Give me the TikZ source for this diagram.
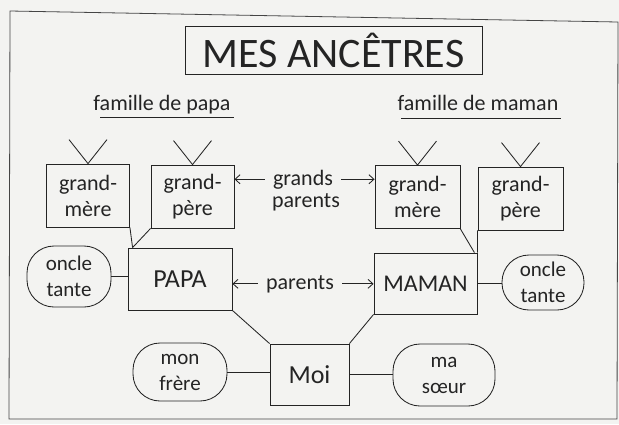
\documentclass[tikz,border=0pt]{standalone}
\usepackage{fontspec}
\setmainfont{Carlito}
\usepackage{tikz}
\usetikzlibrary{arrows.meta,shapes,calc,positioning}

\definecolor{paper}{RGB}{243,243,241}
\definecolor{ink}{RGB}{36,36,36}

\begin{document}
\begin{tikzpicture}[x=1pt,y=-1pt,line width=0.85pt,draw=ink,text=ink,
  >={Straight Barb[length=5pt,width=9pt]}]

\tikzset{elder/.style={
  rectangle,
  inner sep=0pt,
  align=center,
  draw=ink,
  minimum width=83pt,
  minimum height = 63pt,
  font=\fontsize{22}{26}\selectfont
  }}
\tikzset{parent/.style={
  rectangle,
  inner sep=0pt,
  draw=ink,
  minimum width=104pt,
  minimum height = 62pt,
  font=\fontsize{26}{30}\selectfont
  }}
\tikzset{kin/.style={
  rectangle,
  rounded corners=27pt,
  inner sep=0pt,
  align=center,
  draw=ink,
  minimum height = 60pt,
  font=\fontsize{21}{26}\selectfont
  }}
\tikzset{tag/.style={inner sep=0pt, font=\fontsize{22}{24}\selectfont}}
\tikzset{lbl/.style={tag, inner xsep=8pt}}

\useasboundingbox (0,0) rectangle (619,424);
\fill[paper] (0,0) rectangle (619,424);
\draw[ink!85, line width=0.8pt] (10,11) -- (618,22) -- (617,419) -- (9,419) -- cycle;

\node[draw=ink, inner sep=0pt, minimum width=297pt, minimum height=48pt,
  font=\fontsize{42}{42}\selectfont] (title) at (333.5,50) {MES ANCÊTRES};

\node[tag, anchor=base] (famP) at (162,110) {famille de papa};
\node[tag, anchor=base] (famM) at (478,110) {famille de maman};
\draw ([xshift=7pt,yshift=-7pt]famP.base west) -- ([xshift=3pt,yshift=-7pt]famP.base east);
\draw ([xshift=4pt,yshift=-8pt]famM.base west) -- ([xshift=2pt,yshift=-8pt]famM.base east);

% grands-parents
\node[elder] (gmP) at (88,195.5) {grand-\\mère};
\node[elder] (gpP) at (192.5,196.5) {grand-\\père};
\node[elder, minimum width=85pt] (gmM) at (417.5,197) {grand-\\mère};
\node[elder, minimum width=85pt] (gpM) at (520.5,198.5) {grand-\\père};
\foreach \n in {gmP,gpP,gmM,gpM}
  \draw ($(\n.north)+(-19,-24)$) -- (\n.north) -- ($(\n.north)+(19,-24)$);

\node[lbl, anchor=base] (gds) at (303,185) {grands};
\node[tag, anchor=base] (gdsb) at (306,207) {parents};
\path[draw,->] (gds.west) -- (gds.west -| gpP.east);
\path[draw,->] (gds.east) -- (gds.east -| gmM.west);

% parents
\node[parent] (papa) at (180,279) {PAPA};
\node[parent, minimum width=103pt, minimum height=61pt,
  font=\fontsize{24}{30}\selectfont] (maman) at (425.5,283.5) {MAMAN};
\node[lbl, anchor=base] (prn) at (300,289) {parents};
\path[draw,->] (prn.west) -- (prn.west -| papa.east);
\path[draw,->] (prn.east) -- (prn.east -| maman.west);

\draw (gmP.south east) -- ([xshift=5pt]papa.north west);
\draw (gpP.south west) -- ([xshift=5pt]papa.north west);
\draw (gmM.south east) -- ([xshift=-3pt]maman.north east);
\draw (gpM.south west) -- (maman.north east);

\node[kin, minimum width=84pt, minimum height=61pt] (otP) at (69,276.5) {oncle\\tante};
\node[kin, minimum width=82pt, minimum height=55pt] (otM) at (543,282.5) {oncle\\tante};
\draw (otP) -- (otP -| papa.west);
\draw (maman) -- (maman -| otM.west);

% moi
\node[parent, minimum width=79pt, minimum height=61pt] (moi) at (309.5,374.5) {Moi};
\node[kin, minimum width=94pt, minimum height=58pt] (frere) at (180,372) {mon\\frère};
\node[kin, minimum width=102pt, minimum height=62pt] (soeur) at (444,375) {ma\\sœur};
\draw (frere) -- (frere -| moi.west);
\draw (moi) -- (moi -| soeur.west);
\draw (papa.south east) -- (moi.north west);
\draw (maman.south west) -- (moi.north east);
\end{tikzpicture}
\end{document}
